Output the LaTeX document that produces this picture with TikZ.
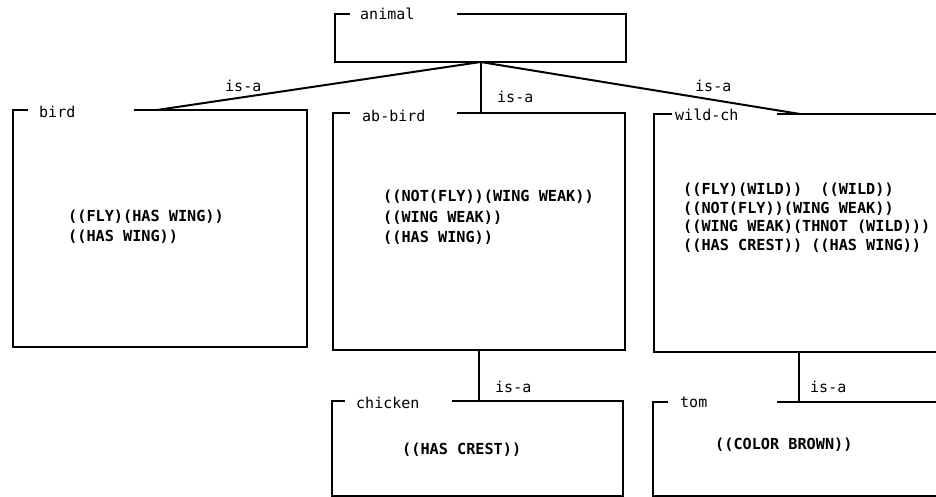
\documentclass[tikz,border=0pt]{standalone}
\usepackage{fontspec}
\setmonofont{DejaVu Sans Mono}
% frame with a short corner tick and a gap in the top edge for the name
\newcommand{\kbframe}[3]{%
  \draw[edge] ([xshift=#2]#1.north west) -- (#1.north west) -- (#1.south west)
    -- (#1.south east) -- (#1.north east) -- ([xshift=#3]#1.north west);}
\begin{document}
\begin{tikzpicture}[x=1pt,y=-1pt,
  edge/.style={line width=2pt, line join=miter, line cap=butt},
  slot/.style={anchor=north west, inner sep=0pt, outer sep=0pt},
  tag/.style={anchor=west, inner sep=0pt, text height=11pt, text depth=0pt,
    font=\ttfamily\fontsize{15}{18}\selectfont},
  facts/.style={anchor=west, inner sep=0pt, align=left,
    font=\ttfamily\bfseries\fontsize{15.2}{#1}\selectfont},
  facts/.default=20pt,
]
\useasboundingbox (0,0) rectangle (936,497);
\clip (0,0) rectangle (936,497);

% frames
\node[slot, minimum width=291pt, minimum height=48pt]  (animal)  at (335,14)  {};
\node[slot, minimum width=294pt, minimum height=237pt] (bird)    at (13,110)  {};
\node[slot, minimum width=292pt, minimum height=237pt] (abbird)  at (333,113) {};
\node[slot, minimum width=290pt, minimum height=238pt] (wildch)  at (654,114) {};
\node[slot, minimum width=291pt, minimum height=95pt]  (chicken) at (332,401) {};
\node[slot, minimum width=291pt, minimum height=94pt]  (tom)     at (653,402) {};

\kbframe{animal}{15pt}{122pt}
\kbframe{bird}{15pt}{121pt}
\kbframe{abbird}{17pt}{124pt}
\kbframe{wildch}{18pt}{123pt}
\kbframe{chicken}{13pt}{120pt}
\kbframe{tom}{15pt}{124pt}

% frame names
\node[tag] (animal-name)  at (360,14.5)  {animal};
\node[tag] (bird-name)    at (39,112.5)  {bird};
\node[tag] (abbird-name)  at (362,116)   {ab-bird};
\node[tag] (wildch-name)  at (675,115.5) {wild-ch};
\node[tag] (chicken-name) at (356,402.5) {chicken};
\node[tag] (tom-name)     at (680,401.5) {tom};

% is-a links
\coordinate (hub) at (animal.south);
\coordinate (bird-in)   at ([xshift=144pt]bird.north west);
\coordinate (wildch-in) at ([xshift=146pt]wildch.north west);
\draw[edge] (hub) -- (bird-in);
\draw[edge] (hub) -- (hub |- abbird.north);
\draw[edge] (hub) -- (wildch-in);
\draw[edge] (abbird.south) -- (abbird.south |- chicken.north);
\draw[edge] (wildch.south) -- (wildch.south |- tom.north);

\node[tag] (isa-bird)    at (225,86.5)  {is-a};
\node[tag] (isa-abbird)  at (497,97.5)  {is-a};
\node[tag] (isa-wildch)  at (695,86.5)  {is-a};
\node[tag] (isa-chicken) at (495,386.5) {is-a};
\node[tag] (isa-tom)     at (810,386.5) {is-a};

% slot contents
\node[facts] (bird-facts) at (68,227) {((FLY)(HAS WING))\\((HAS WING))};
\node[facts=20.5pt] (abbird-facts) at (383,217.5)
  {((NOT(FLY))(WING WEAK))\\((WING WEAK))\\((HAS WING))};
\node[facts=18.5pt] (wildch-facts) at (683,217.5)
  {((FLY)(WILD))\ \ ((WILD))\\((NOT(FLY))(WING WEAK))\\((WING WEAK)(THNOT (WILD)))\\((HAS CREST)) ((HAS WING))};
\node[facts] (chicken-facts) at (402,450) {((HAS CREST))};
\node[facts] (tom-facts)     at (715,445) {((COLOR BROWN))};
\end{tikzpicture}
\end{document}
